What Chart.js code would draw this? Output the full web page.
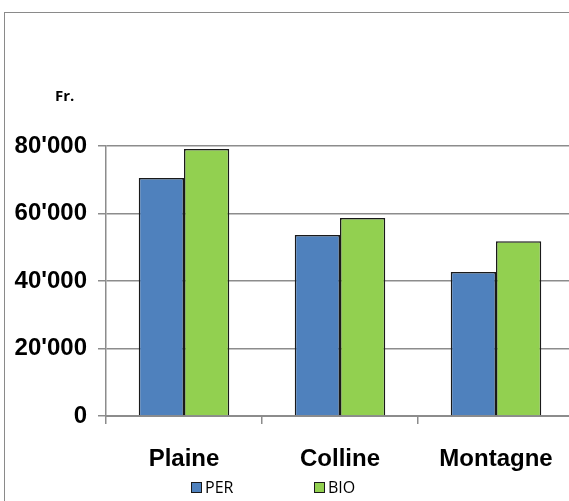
<!DOCTYPE html>
<html>
<head>
<meta charset="utf-8">
<script src="https://cdn.jsdelivr.net/npm/chart.js@4.4.1/dist/chart.umd.min.js"></script>
<style>
    html, body { margin: 0; padding: 0; background: #fff; overflow: hidden; }
    #frame { position: absolute; left: 4px; top: 12px; width: 700px; height: 600px; border: 1.5px solid #8a8a8a; }
    #wrap { position: absolute; left: 0; top: 0; width: 574px; height: 501px; }
</style>
</head>
<body>
<div id="frame"></div>
<div id="wrap"><canvas id="chart"></canvas></div>
<script>
const categories = ['Plaine', 'Colline', 'Montagne'];
const perValues = [70500, 53600, 42700];
const bioValues = [79100, 58700, 51800];
const yTicks = [0, 20000, 40000, 60000, 80000];
const unitLabel = 'Fr.';

const gridColor = '#8c8c8c';

function formatCH(v) {
    return String(v).replace(/\B(?=(\d{3})+(?!\d))/g, "'");
}

// small "Fr." caption above the y axis + legend drawn under the chart
const extras = {
    id: 'extras',
    afterDraw(chart) {
        const ctx = chart.ctx;
        ctx.save();
        ctx.fillStyle = '#000';
        ctx.font = 'bold 15px "Open Sans"';
        ctx.textBaseline = 'middle';
        ctx.textAlign = 'left';
        ctx.fillText(unitLabel, 55, 97);

        const items = chart.data.datasets;
        const startX = [191, 314];
        ctx.font = '16px "Open Sans"';
        items.forEach((ds, i) => {
            const x = startX[i];
            const y = 482;
            ctx.fillStyle = ds.backgroundColor;
            ctx.fillRect(x, y, 11, 11);
            ctx.strokeStyle = '#1a1a1a';
            ctx.lineWidth = 1;
            ctx.strokeRect(x + 0.5, y + 0.5, 10, 10);
            ctx.fillStyle = '#000';
            ctx.fillText(ds.label, x + 14, y + 6);
        });
        ctx.restore();
    }
};

new Chart(document.getElementById('chart'), {
    type: 'bar',
    data: {
        labels: categories,
        datasets: [
            {
                label: 'PER',
                data: perValues,
                backgroundColor: '#4f81bd',
                borderColor: '#1a1a1a',
                borderWidth: 1.5,
                borderSkipped: 'bottom'
            },
            {
                label: 'BIO',
                data: bioValues,
                backgroundColor: '#92d050',
                borderColor: '#1a1a1a',
                borderWidth: 1.5,
                borderSkipped: 'bottom'
            }
        ]
    },
    options: {
        responsive: true,
        maintainAspectRatio: false,
        animation: false,
        datasets: {
            bar: {
                categoryPercentage: 0.58,
                barPercentage: 1
            }
        },
        layout: {
            padding: {top: 146, bottom: 30, left: 0, right: 0}
        },
        plugins: {
            legend: {display: false},
            tooltip: {enabled: false},
            title: {display: false}
        },
        scales: {
            x: {
                grid: {
                    display: true,
                    drawOnChartArea: false,
                    drawTicks: true,
                    tickLength: 8,
                    color: gridColor,
                    lineWidth: 1.5,
                    offset: true
                },
                border: {color: gridColor, width: 2},
                ticks: {
                    color: '#000',
                    padding: 21,
                    font: {family: '"Liberation Sans", Arial', size: 24, weight: 'bold'}
                },
                afterFit(scale) {
                    scale.height = 55;
                }
            },
            y: {
                min: 0,
                max: 80000,
                afterBuildTicks(scale) {
                    scale.ticks = yTicks.map(v => ({value: v}));
                },
                grid: {
                    color: gridColor,
                    lineWidth: 1.5,
                    tickLength: 8
                },
                border: {color: gridColor, width: 1.5},
                ticks: {
                    color: '#000',
                    padding: 11,
                    font: {family: '"Liberation Sans", Arial', size: 24, weight: 'bold'},
                    callback: v => formatCH(v)
                },
                afterFit(scale) {
                    scale.width = 106;
                }
            }
        }
    },
    plugins: [extras]
});
</script>
</body>
</html>
